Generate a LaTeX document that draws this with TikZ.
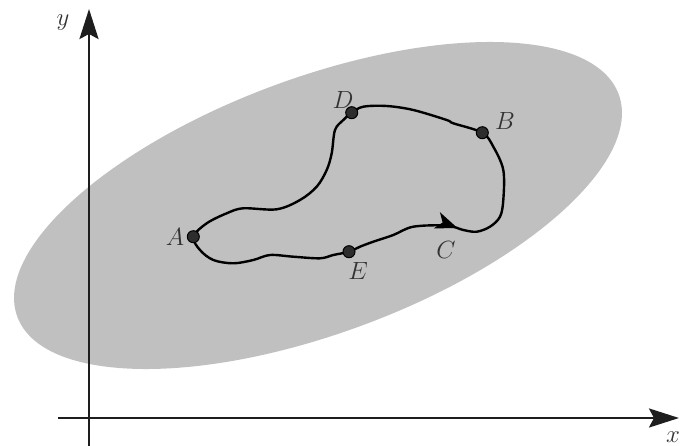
\documentclass[tikz,border=0pt]{standalone}
\usepackage{amsmath}
\usetikzlibrary{arrows.meta,decorations.markings}
\definecolor{regionGray}{RGB}{192,192,192}
\definecolor{inkDark}{RGB}{30,30,30}
\definecolor{dotFill}{RGB}{45,45,45}
\colorlet{LabelInk}{black!80}

\begin{document}
\begin{tikzpicture}[x=1pt,y=-1pt,
    axis/.style={line width=2.6pt,inkDark,-{Stealth[length=30pt,width=19pt,inset=5pt]}},
    pathcurve/.style={line width=2.4pt,black,line join=round,
      postaction={decorate},
      decoration={markings,mark=at position 0.343 with {\arrow{Stealth[length=22pt,width=17pt,inset=6pt]}}}},
    dot/.style={circle,draw=black,fill=dotFill,line width=1pt,inner sep=0pt,minimum size=12pt},
    lbl/.style={text=LabelInk,font=\fontsize{27}{31}\selectfont,inner sep=0pt}]
  \useasboundingbox (0,0) rectangle (684,446);
  % shaded region
  \fill[regionGray,rotate around={20.3:(318,205.5)}] (318,205.5) ellipse [x radius=320.6pt,y radius=127.8pt];
  % axes
  \coordinate (yfoot) at (89,446);
  \coordinate (ytip) at (89,9);
  \coordinate (xfoot) at (58,418);
  \coordinate (xtip) at (679,418);
  \draw[axis] (yfoot) -- (ytip);
  \draw[axis] (xfoot) -- (xtip);
  \node[lbl] (ylab) at (63,23) {$y$};
  \node[lbl] (xlab) at (673,437) {$x$};
  % points on the loop
  \foreach \n/\px/\py in {A/193.3/236.7, D/351.7/112.7, B/482.3/132.7, E/349/251.7}{
    \coordinate (\n) at (\px,\py);
  }
  \draw[pathcurve] plot[smooth cycle,tension=0.55] coordinates {
    (A) (200,250) (213.3,260) (233.3,263.3) (253.3,260) (270,255) (293.3,256.7)
    (320,258.3) (333.3,255) (E) (360,246.7) (373.3,241.7) (393.3,235)
    (413.3,226.7) (446.7,225.5) (463.3,230) (476.7,231.7) (490,226.7) (500,216.7)
    (503.3,200) (503.3,170) (493.3,146.7) (B) (453.3,123.3) (446.7,120)
    (413.3,110) (386.7,106) (363.3,106.7) (D) (343.3,120) (335,130) (331.7,153.3)
    (326.7,170) (316.7,186.7) (300,200) (276.7,209.3) (243.3,208.3) (226.7,213.3)
    (206.7,223.3)};
  \foreach \n in {A,D,B,E}{
    \node[dot] (dot\n) at (\n) {};
  }
  % labels
  \foreach \n/\px/\py in {A/175/237, D/343/100, B/505/121, E/358/271, C/446/250}{
    \node[lbl] (lab\n) at (\px,\py) {$\n$};
  }
\end{tikzpicture}
\end{document}
